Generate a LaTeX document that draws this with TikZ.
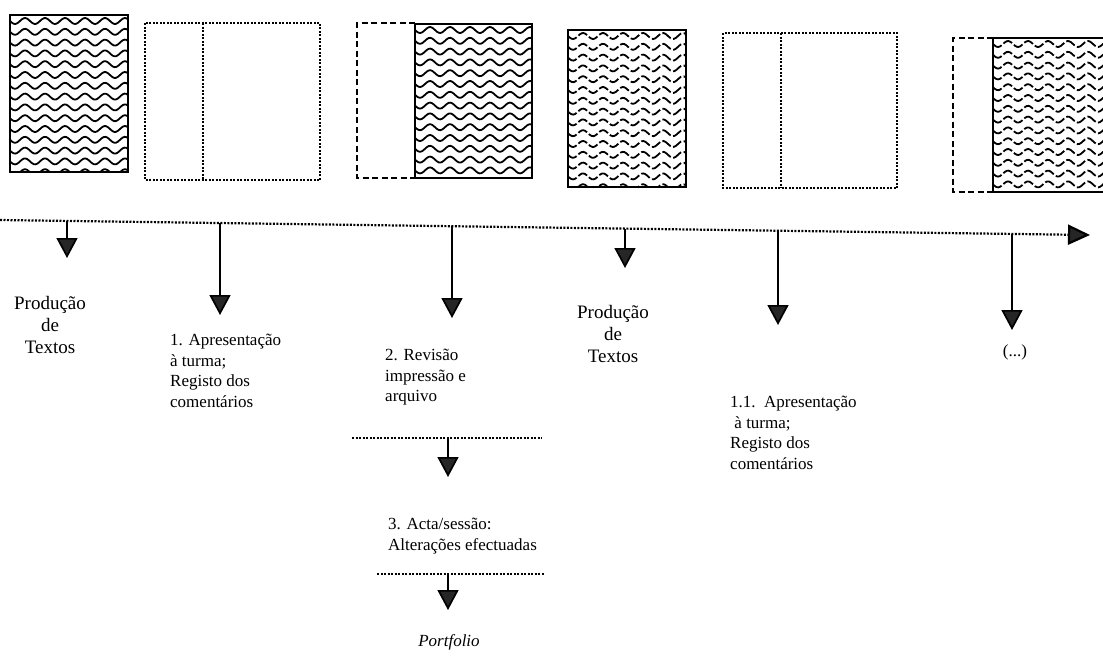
\documentclass[tikz,border=0pt]{standalone}
\usepackage{fontspec}
\setmainfont{Liberation Serif}
\usetikzlibrary{arrows.meta}
\begin{document}
\begin{tikzpicture}[x=1pt,y=-1pt,
    lbl/.style={inner sep=0pt, font=\fontsize{17}{20.5}\selectfont},
    big/.style={inner sep=0pt, font=\fontsize{19}{22}\selectfont},
    down/.style={line width=1.7pt, -{Triangle[width=21pt,length=20pt,fill=black!85]}},
    dotline/.style={line width=2.2pt, dash pattern=on 2pt off 1.5pt},
    frame/.style={line width=2pt},
    dotframe/.style={line width=2.2pt, dash pattern=on 2pt off 1.5pt},
    dashframe/.style={line width=1.4pt, dash pattern=on 6pt off 3.5pt},
    wave/.style={line width=1.8pt},
    brokenwave/.style={line width=1.8pt, dash pattern=on 10pt off 2.5pt}]
    \useasboundingbox (0,0) rectangle (1103,665);
    % folhas (textos)
    \draw[dotframe] (145,23) rectangle (320,180);
    \draw[dotframe] (203,23) -- (203,180);
    \draw[dashframe] (415,23) -- (357,23) -- (357,178) -- (415,178);
    \draw[dotframe] (723,33) rectangle (897,188);
    \draw[dotframe] (781,33) -- (781,188);
    \draw[dashframe] (993,38) -- (953,38) -- (953,192) -- (993,192);
    \foreach \xa/\ya/\xb/\yb/\st in {10/15/128/172/wave, 415/24/532/178/wave,
            568/30/686/187/brokenwave, 993/38/1110/192/brokenwave} {
        \begin{scope}
            \clip (\xa,\ya) rectangle (\xb,\yb);
            \pgfmathsetmacro\w{\xb-\xa}
            \foreach \k in {0,...,14} {
                \pgfmathsetmacro\r{\ya+6+10.8*\k}
                \draw[\st] plot[domain=0:\w, samples=70] ({\xa+\x},{\r+3*sin(18*\x)});
            }
        \end{scope}
        \draw[frame] (\xa,\ya) rectangle (\xb,\yb);
    }
    % linha do tempo
    \coordinate (tl0) at (0,220);
    \coordinate (tl1) at (1090,235);
    \draw[dotline, -{Triangle[width=20pt,length=22pt,fill=black!85]}] (tl0) -- (tl1);
    \foreach \n/\xx/\ya/\yb in {1/67/221/258, 2/220/223/315, 3/452/226/318,
            4/625/229/268, 5/778/231/325, 6/1012/234/330} {
        \coordinate (s\n) at (\xx,\ya);
        \coordinate (e\n) at (\xx,\yb);
        \draw[down] (s\n) -- (e\n);
    }
    % etapas
    \node[big, align=center] (prod1) at (50,325) {Produção\\de\\Textos};
    \node[lbl, align=left, anchor=north west] (apres1) at (170,334)
        {1. Apresentação\\à turma;\\Registo dos\\comentários};
    \node[lbl, align=left, anchor=north west] (revis) at (385,349)
        {2. Revisão\\impressão e\\arquivo};
    \node[big, align=center] (prod2) at (613,334) {Produção\\de\\Textos};
    \node[lbl, align=left, anchor=north west] (apres2) at (730,396)
        {1.1.\ \ Apresentação\\\ à turma;\\Registo dos\\comentários};
    \node[lbl] (etc) at (1015,352) {(...)};
    \coordinate (d1a) at (352,438);
    \coordinate (d1b) at (542,438);
    \draw[dotline, line width=1.8pt] (d1a) -- (d1b);
    \coordinate (f1) at (448,438);
    \coordinate (g1) at (448,477);
    \draw[down] (f1) -- (g1);
    \node[lbl, align=left, anchor=north west] (acta) at (388,518)
        {3. Acta/sessão:\\Alterações efectuadas};
    \coordinate (d2a) at (377,574);
    \coordinate (d2b) at (545,574);
    \draw[dotline, line width=1.8pt] (d2a) -- (d2b);
    \coordinate (f2) at (448,574);
    \coordinate (g2) at (448,610);
    \draw[down] (f2) -- (g2);
    \node[lbl, font=\fontsize{17}{20.5}\selectfont\itshape] (port) at (449,642) {Portfolio};
\end{tikzpicture}
\end{document}
